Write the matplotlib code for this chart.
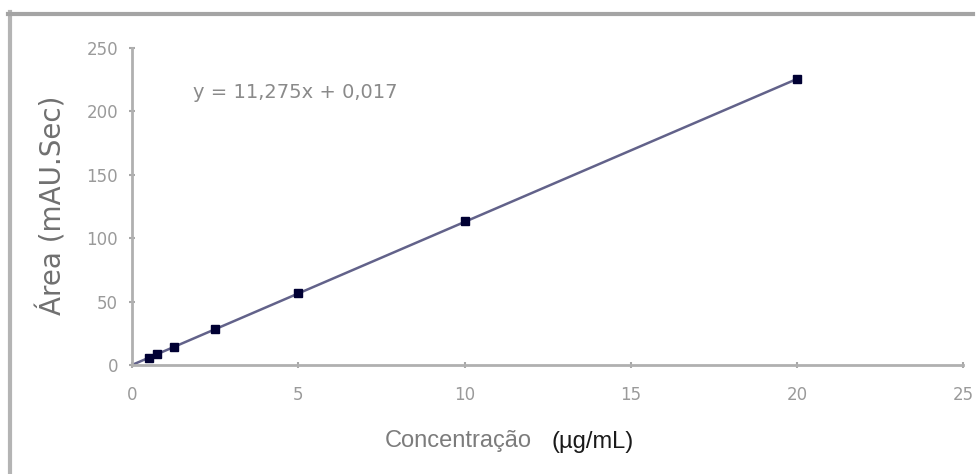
import matplotlib
matplotlib.use("Agg")
import matplotlib.pyplot as plt
from matplotlib.lines import Line2D
import numpy as np

plt.rcParams['font.family'] = ['Liberation Sans', 'DejaVu Sans']

# Calibration standards: concentration (µg/mL) and peak area (mAU.Sec)
concentration = [0.5, 0.75, 1.25, 2.5, 5, 10, 20]
area = [5.8, 8.6, 14.2, 28.0, 56.6, 113.5, 225.4]

# Linear trendline coefficients
slope = 11.275
intercept = 0.017
equation_label = "y = 11,275x + 0,017"

x_ticks = [0, 5, 10, 15, 20, 25]
y_ticks = [0, 50, 100, 150, 200, 250]

fig = plt.figure(figsize=(9.78, 4.74), dpi=100)
ax = fig.add_axes([0.135, 0.230, 0.850, 0.669])

# Trendline over the calibration range
xfit = np.array([0, max(concentration)])
ax.plot(xfit, slope * xfit + intercept, color='#62628a', lw=1.8, zorder=2)
ax.plot(concentration, area, linestyle='none', marker='s', markersize=5.5,
        color='#000033', zorder=3)

ax.set_xlim(0, 25)
ax.set_ylim(0, 250)
ax.set_xticks(x_ticks)
ax.set_yticks(y_ticks)
ax.tick_params(axis='both', colors='#a8a8a8', labelcolor='#9a9a9a',
               labelsize=12, length=4, width=1.5, direction='inout')
for lab in ax.get_xticklabels() + ax.get_yticklabels():
    lab.set_family('DejaVu Sans')
ax.tick_params(axis='x', pad=13)
ax.tick_params(axis='y', pad=8)
for side in ('top', 'right'):
    ax.spines[side].set_visible(False)
for side in ('left', 'bottom'):
    ax.spines[side].set_color('#b0b0b0')
    ax.spines[side].set_linewidth(2)

ax.set_ylabel("Área (mAU.Sec)", fontsize=20, color='#707070',
              family='DejaVu Sans')
ax.yaxis.set_label_coords(-0.078, 0.505)

ax.text(0.073, 0.858, equation_label, transform=ax.transAxes,
        fontsize=14, color='#8a8a8a', ha='left', va='center',
        family='DejaVu Sans')

fig.text(385 / 978, 1 - 441 / 474, "Concentração", fontsize=17,
         color='#7c7c7c', ha='left', va='center')
fig.text(552 / 978, 1 - 442 / 474, "(µg/mL)", fontsize=17,
         color='#1a1a1a', ha='left', va='center')

# Outer chart frame (left and top edges)
fig.add_artist(Line2D([10 / 978, 10 / 978], [0, 1 - 12 / 474],
                      transform=fig.transFigure, color='#b4b4b4', lw=3))
fig.add_artist(Line2D([8 / 978, 973 / 978], [1 - 14 / 474, 1 - 14 / 474],
                      transform=fig.transFigure, color='#a4a4a4', lw=3))

fig.savefig("out.png", dpi=100)
